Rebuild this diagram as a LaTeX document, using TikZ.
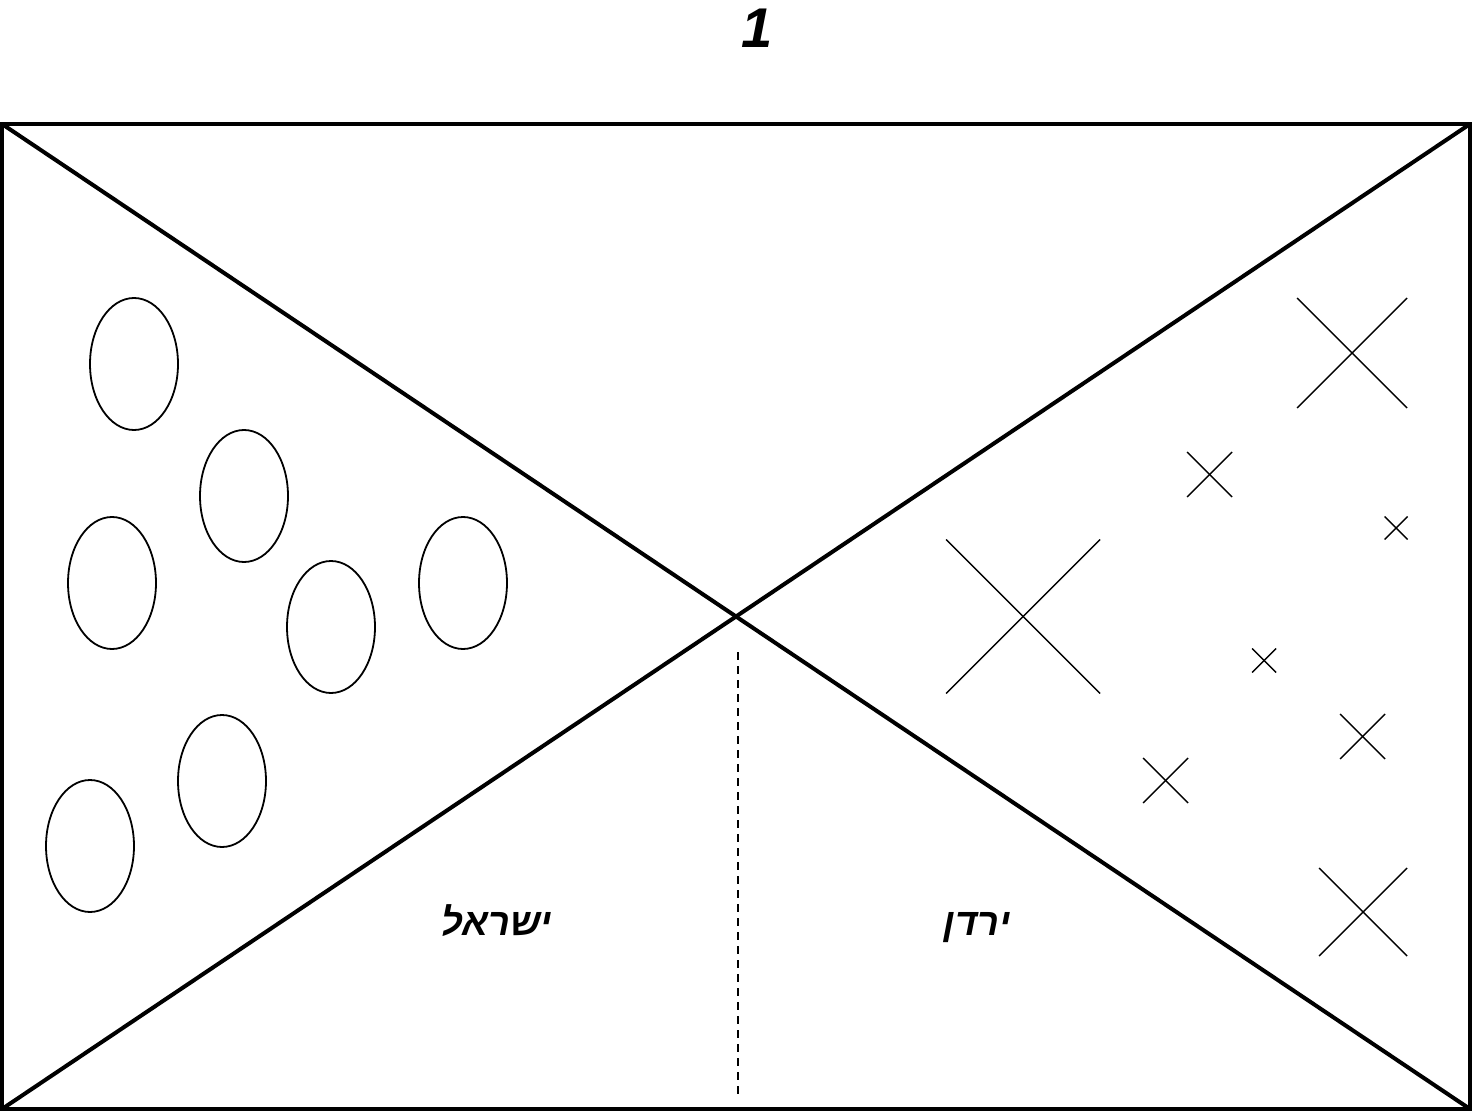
\documentclass[tikz,border=0pt]{standalone}
\usepackage{fontspec}
\usetikzlibrary{shapes.geometric}
\setmainfont{Liberation Sans}
\newfontfamily\hebfont[Script=Hebrew]{Liberation Sans}
\TeXXeTstate=1
\begin{document}
\begin{tikzpicture}[x=0.5pt,y=-0.5pt,
  frame/.style={line width=2pt},
  blob/.style={draw,line width=0.9pt},
  xmark/.style={line width=0.7pt},
  divider/.style={line width=1pt,dash pattern=on 4pt off 3pt},
  heblabel/.style={font=\hebfont\bfseries\itshape\fontsize{19}{22}\selectfont,inner sep=0pt},
  titlelabel/.style={font=\bfseries\itshape\fontsize{28}{32}\selectfont,inner sep=0pt}]
\useasboundingbox (0,0) rectangle (1472,1112);
\coordinate (tl) at (2,124);
\coordinate (tr) at (1470,124);
\coordinate (bl) at (2,1109);
\coordinate (br) at (1470,1109);
\draw[frame] (tl) rectangle (br);
\draw[frame] (tl) -- (br);
\draw[frame] (tr) -- (bl);
\node[titlelabel] (title) at (757,28) {1};
% ellipses
\foreach \cx/\cy [count=\i] in {134/364,244/496,112/583,331/627,463/583,222/781,90/846}{
  \node[blob,ellipse,minimum width=44pt,minimum height=66pt,inner sep=0pt] (e\i) at (\cx,\cy) {};
}
% crosses
\foreach \cx/\cy/\h [count=\i] in {1352/353/55,1209.5/474.5/22.5,1396/528/11.5,1023/616.5/77,1264/660.5/12,1362.5/736.5/22.5,1165.5/780.5/22.5,1363/912/44}{
  \coordinate (x\i a) at (\cx-\h,\cy-\h);
  \coordinate (x\i b) at (\cx+\h,\cy+\h);
  \coordinate (x\i c) at (\cx+\h,\cy-\h);
  \coordinate (x\i d) at (\cx-\h,\cy+\h);
  \draw[xmark] (x\i a) -- (x\i b);
  \draw[xmark] (x\i c) -- (x\i d);
}
\coordinate (dtop) at (738,652);
\coordinate (dbot) at (738,1096);
\draw[divider] (dtop) -- (dbot);
\node[heblabel] (isr) at (497,921) {\beginR ישראל\endR};
\node[heblabel] (jor) at (977,928) {\beginR ירדן\endR};
\end{tikzpicture}
\end{document}
